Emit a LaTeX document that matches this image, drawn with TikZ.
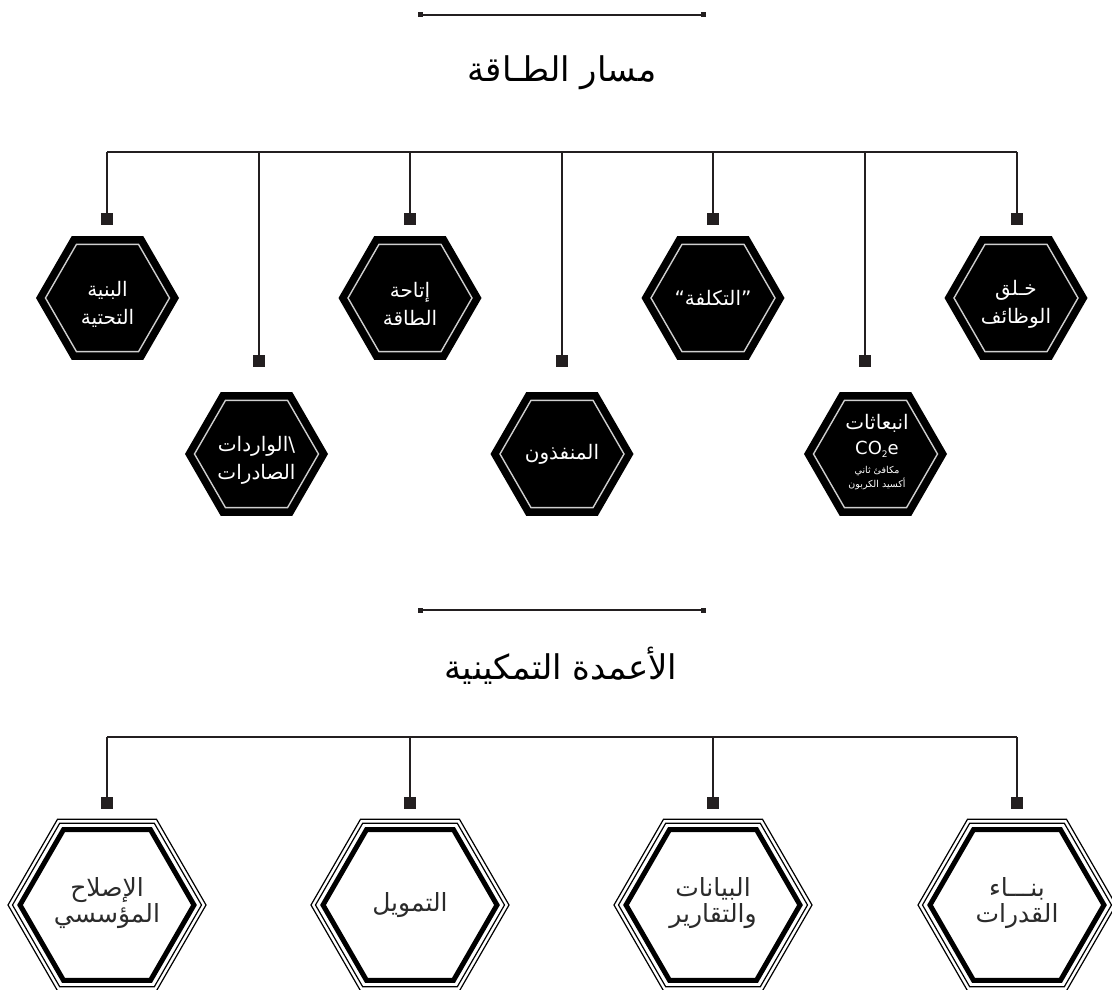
\documentclass[tikz,border=0pt]{standalone}
\usepackage{fontspec}
\setmainfont{DejaVu Sans}
\newfontfamily\ar[Script=Arabic]{DejaVu Sans}
\TeXXeTstate=1
\usetikzlibrary{shapes.geometric}
\definecolor{ink}{HTML}{231F20}
\definecolor{rim}{HTML}{CFCFCF}
\definecolor{txtgray}{HTML}{2B2B2B}
\begin{document}
\begin{tikzpicture}[x=1pt,y=-1pt,
 wire/.style={draw=ink, line width=1.3pt},
 sqr/.style={fill=ink, minimum size=12pt, inner sep=0pt, outer sep=0pt},
 tinysq/.style={fill=ink, minimum size=5pt, inner sep=0pt, outer sep=0pt},
 hexb/.style={regular polygon, regular polygon sides=6, minimum size=143pt, inner sep=0pt, outer sep=0pt, fill=black},
 rimhex/.style={regular polygon, regular polygon sides=6, minimum size=124pt, inner sep=0pt, draw=rim, line width=1.4pt},
 thinhex/.style={regular polygon, regular polygon sides=6, inner sep=0pt, draw=black, line width=1.2pt},
 hexw/.style={regular polygon, regular polygon sides=6, minimum size=174pt, inner sep=0pt, fill=white, draw=black, line width=5pt},
 wtxt/.style={text=white, align=center, font=\ar\fontsize{20}{28}\selectfont},
 gtxt/.style={text=txtgray, align=center, font=\ar\fontsize{25}{26}\selectfont},
 ttl/.style={text=black, font=\ar\fontsize{34}{38}\selectfont},
]
\useasboundingbox (0,0) rectangle (1112,990);
\clip (0,0) rectangle (1112,990);

% ---------- top section ----------
\node[tinysq] (d1) at (420,15) {};
\node[tinysq] (d2) at (703,15) {};
\draw[wire] (d1) -- (d2);
\node[ttl] (t1) at (562,73) {\beginR مسار الطـاقة\endR};

\coordinate (b1) at (107,152);
\coordinate (b2) at (259,152);
\coordinate (b3) at (410,152);
\coordinate (b4) at (562,152);
\coordinate (b5) at (713,152);
\coordinate (b6) at (865,152);
\coordinate (b7) at (1017,152);
\draw[wire] (b1) -- (b7);

\node[sqr] (s1) at (107,219) {};
\node[sqr] (s2) at (259,361) {};
\node[sqr] (s3) at (410,219) {};
\node[sqr] (s4) at (562,361) {};
\node[sqr] (s5) at (713,219) {};
\node[sqr] (s6) at (865,361) {};
\node[sqr] (s7) at (1017,219) {};
\foreach \i in {1,...,7} { \draw[wire] (b\i) -- (s\i); }

% upper row hexagons
\node[hexb] (h1) at (107.5,298) {};
\node[hexb] (h3) at (410,298) {};
\node[hexb] (h5) at (713,298) {};
\node[hexb] (h7) at (1016,298) {};
% lower row hexagons
\node[hexb] (h2) at (256.5,454) {};
\node[hexb] (h4) at (562,454) {};
\node[hexb] (h6) at (875.5,454) {};

\foreach \h in {1,...,7} { \node[rimhex] (r\h) at (h\h) {}; }

\node[wtxt] (x1) at (107.5,304) {\beginR البنية\endR\\\beginR التحتية\endR};
\node[wtxt] (x3) at (410,304) {\beginR إتاحة\endR\\\beginR الطاقة\endR};
\node[wtxt] (x5) at (713,298) {“\beginR التكلفة\endR”};
\node[wtxt] (x7) at (1016,304) {\beginR خـلق\endR\\\beginR الوظائف\endR};
\node[wtxt] (x2) at (256.5,460) {\beginR الواردات\endR\textbackslash\\\beginR الصادرات\endR};
\node[wtxt] (x4) at (562,454) {\beginR المنفذون\endR};
\node[text=white, font=\ar\fontsize{20}{24}\selectfont] (x6a) at (877,423) {\beginR انبعاثات\endR};
\node[text=white, font=\fontsize{18}{22}\selectfont] (x6b) at (877,449) {CO\raisebox{-3pt}{\fontsize{9}{9}\selectfont 2}e};
\node[text=white, align=center, font=\ar\fontsize{9.5}{13.5}\selectfont] (x6c) at (877,478) {\beginR مكافئ ثاني\endR\\\beginR أكسيد الكربون\endR};

% ---------- bottom section ----------
\node[tinysq] (d3) at (420,610) {};
\node[tinysq] (d4) at (703,610) {};
\draw[wire] (d3) -- (d4);
\node[ttl] (t2) at (561,666) {\beginR الأعمدة التمكينية\endR};

\coordinate (c1) at (107,737);
\coordinate (c2) at (410,737);
\coordinate (c3) at (713,737);
\coordinate (c4) at (1017,737);
\draw[wire] (c1) -- (c4);
\node[sqr] (q1) at (107,803) {};
\node[sqr] (q2) at (410,803) {};
\node[sqr] (q3) at (713,803) {};
\node[sqr] (q4) at (1017,803) {};
\foreach \i in {1,...,4} { \draw[wire] (c\i) -- (q\i); }

\foreach \i/\x in {1/107,2/410,3/713,4/1017} {
  \node[thinhex, minimum size=198pt] (o\i) at (\x,905) {};
  \node[thinhex, minimum size=189pt] (m\i) at (\x,905) {};
  \node[hexw] (p\i) at (\x,905) {};
}
\node[gtxt] (y1) at (107,903) {\beginR الإصلاح\endR\\\beginR المؤسسي\endR};
\node[gtxt] (y2) at (410,905) {\beginR التمويل\endR};
\node[gtxt] (y3) at (713,903) {\beginR البيانات\endR\\\beginR والتقارير\endR};
\node[gtxt] (y4) at (1017,903) {\beginR بنـــاء\endR\\\beginR القدرات\endR};
\end{tikzpicture}
\end{document}
